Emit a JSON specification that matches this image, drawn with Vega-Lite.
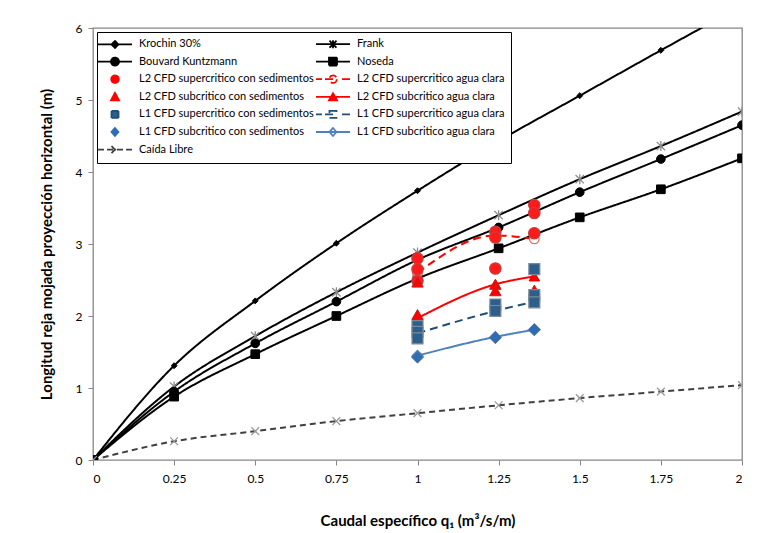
{
  "$schema": "https://vega.github.io/schema/vega-lite/v6.json",
  "autosize": {"type": "none"},
  "padding": {"left": 93, "top": 28, "right": 19, "bottom": 73},
  "width": 649,
  "height": 432,
  "background": "white",
  "params": [
    {"name": "legNames", "value": ["Krochin 30%", "Frank", "Bouvard Kuntzmann", "Noseda", "L2 CFD supercritico con sedimentos", "L2 CFD supercritico agua clara", "L2 CFD subcritico con sedimentos", "L2 CFD subcritico agua clara", "L1 CFD supercritico con sedimentos", "L1 CFD supercritico agua clara", "L1 CFD subcritico con sedimentos", "L1 CFD subcritico agua clara", "Caída Libre"]},
    {"name": "legShapes", "value": [
      "M-3.4,0H3.4M0,-0.7L0.7,0L0,0.7L-0.7,0Z",
      "M-3.4,0H3.4M-0.7,-0.7L0.7,0.7M-0.7,0.7L0.7,-0.7M0,-0.8V0.8",
      "M-3.4,0H3.4M0.8,0A0.8,0.8,0,1,1,-0.8,0A0.8,0.8,0,1,1,0.8,0Z",
      "M-3.4,0H3.4M-0.8,-0.8H0.8V0.8H-0.8Z",
      "M0.75,0A0.75,0.75,0,1,1,-0.75,0A0.75,0.75,0,1,1,0.75,0Z",
      "M-3.4,0H-2.2M-1.6,0H1.0M1.8,0H3.4M0.75,0A0.75,0.75,0,1,1,-0.75,0A0.75,0.75,0,1,1,0.75,0Z",
      "M0,-0.8L0.8,0.7H-0.8Z",
      "M-3.4,0H3.4M0,-0.7L0.8,0.7H-0.8Z",
      "M-0.7,-0.7H0.7V0.7H-0.7Z",
      "M-3.4,0H-2.2M-1.6,0H1.0M1.8,0H3.4M-0.7,-0.7H0.7V0.7H-0.7Z",
      "M0,-0.8L0.7,0L0,0.8L-0.7,0Z",
      "M-3.4,0H3.4M0,-0.8L0.7,0L0,0.8L-0.7,0Z",
      "M-3.4,0H-2.2M-1.6,0H1.6M2.2,0H3.4M-0.7,-0.7L0.7,0.7M-0.7,0.7L0.7,-0.7"
    ]},
    {"name": "legFill", "value": ["#000000", "#000000", "#000000", "#000000", "#ff0000", "#ffffff", "#ff0000", "#ff0000", "#2d5f8a", "#ffffff", "#2e6db4", "#ffffff", "#404040"]},
    {"name": "legStroke", "value": ["#000000", "#000000", "#000000", "#000000", "#d00000", "#ff0000", "#ff0000", "#ff0000", "#2d5f8a", "#1f4e79", "#2e6db4", "#4f81bd", "#404040"]}
  ],
  "data": {
    "values": [
      {"s": "Krochin 30%", "q": 0, "L": 0}, {"s": "Krochin 30%", "q": 0.25, "L": 1.31}, {"s": "Krochin 30%", "q": 0.5, "L": 2.21}, {"s": "Krochin 30%", "q": 0.75, "L": 3.01}, {"s": "Krochin 30%", "q": 1, "L": 3.74}, {"s": "Krochin 30%", "q": 1.25, "L": 4.43}, {"s": "Krochin 30%", "q": 1.5, "L": 5.06}, {"s": "Krochin 30%", "q": 1.75, "L": 5.69}, {"s": "Krochin 30%", "q": 2, "L": 6.31},
      {"s": "Frank", "q": 0, "L": 0}, {"s": "Frank", "q": 0.25, "L": 1.02}, {"s": "Frank", "q": 0.5, "L": 1.72}, {"s": "Frank", "q": 0.75, "L": 2.33}, {"s": "Frank", "q": 1, "L": 2.88}, {"s": "Frank", "q": 1.25, "L": 3.4}, {"s": "Frank", "q": 1.5, "L": 3.9}, {"s": "Frank", "q": 1.75, "L": 4.36}, {"s": "Frank", "q": 2, "L": 4.84},
      {"s": "Bouvard Kuntzmann", "q": 0, "L": 0}, {"s": "Bouvard Kuntzmann", "q": 0.25, "L": 0.95}, {"s": "Bouvard Kuntzmann", "q": 0.5, "L": 1.62}, {"s": "Bouvard Kuntzmann", "q": 0.75, "L": 2.2}, {"s": "Bouvard Kuntzmann", "q": 1, "L": 2.78}, {"s": "Bouvard Kuntzmann", "q": 1.25, "L": 3.23}, {"s": "Bouvard Kuntzmann", "q": 1.5, "L": 3.72}, {"s": "Bouvard Kuntzmann", "q": 1.75, "L": 4.18}, {"s": "Bouvard Kuntzmann", "q": 2, "L": 4.65},
      {"s": "Noseda", "q": 0, "L": 0}, {"s": "Noseda", "q": 0.25, "L": 0.88}, {"s": "Noseda", "q": 0.5, "L": 1.47}, {"s": "Noseda", "q": 0.75, "L": 2.0}, {"s": "Noseda", "q": 1, "L": 2.52}, {"s": "Noseda", "q": 1.25, "L": 2.94}, {"s": "Noseda", "q": 1.5, "L": 3.37}, {"s": "Noseda", "q": 1.75, "L": 3.76}, {"s": "Noseda", "q": 2, "L": 4.19},
      {"s": "Caída Libre", "q": 0, "L": 0}, {"s": "Caída Libre", "q": 0.25, "L": 0.26}, {"s": "Caída Libre", "q": 0.5, "L": 0.4}, {"s": "Caída Libre", "q": 0.75, "L": 0.54}, {"s": "Caída Libre", "q": 1, "L": 0.65}, {"s": "Caída Libre", "q": 1.25, "L": 0.76}, {"s": "Caída Libre", "q": 1.5, "L": 0.86}, {"s": "Caída Libre", "q": 1.75, "L": 0.95}, {"s": "Caída Libre", "q": 2, "L": 1.04},
      {"s": "L2 CFD supercritico agua clara", "q": 1, "L": 2.6}, {"s": "L2 CFD supercritico agua clara", "q": 1.24, "L": 3.12}, {"s": "L2 CFD supercritico agua clara", "q": 1.36, "L": 3.07},
      {"s": "L2 CFD subcritico agua clara", "q": 1, "L": 1.97}, {"s": "L2 CFD subcritico agua clara", "q": 1.24, "L": 2.44}, {"s": "L2 CFD subcritico agua clara", "q": 1.36, "L": 2.55},
      {"s": "L1 CFD supercritico agua clara", "q": 1, "L": 1.76}, {"s": "L1 CFD supercritico agua clara", "q": 1.24, "L": 2.07}, {"s": "L1 CFD supercritico agua clara", "q": 1.36, "L": 2.2},
      {"s": "L1 CFD subcritico agua clara", "q": 1, "L": 1.45}, {"s": "L1 CFD subcritico agua clara", "q": 1.24, "L": 1.71}, {"s": "L1 CFD subcritico agua clara", "q": 1.36, "L": 1.81},
      {"s": "L2 CFD supercritico con sedimentos", "q": 1, "L": 2.8}, {"s": "L2 CFD supercritico con sedimentos", "q": 1, "L": 2.65}, {"s": "L2 CFD supercritico con sedimentos", "q": 1, "L": 2.49}, {"s": "L2 CFD supercritico con sedimentos", "q": 1.24, "L": 3.17}, {"s": "L2 CFD supercritico con sedimentos", "q": 1.24, "L": 3.09}, {"s": "L2 CFD supercritico con sedimentos", "q": 1.24, "L": 2.66}, {"s": "L2 CFD supercritico con sedimentos", "q": 1.36, "L": 3.54}, {"s": "L2 CFD supercritico con sedimentos", "q": 1.36, "L": 3.43}, {"s": "L2 CFD supercritico con sedimentos", "q": 1.36, "L": 3.15},
      {"s": "L2 CFD subcritico con sedimentos", "q": 1, "L": 2.47}, {"s": "L2 CFD subcritico con sedimentos", "q": 1, "L": 2.02}, {"s": "L2 CFD subcritico con sedimentos", "q": 1.24, "L": 2.44}, {"s": "L2 CFD subcritico con sedimentos", "q": 1.24, "L": 2.35}, {"s": "L2 CFD subcritico con sedimentos", "q": 1.36, "L": 2.36},
      {"s": "L1 CFD supercritico con sedimentos", "q": 1, "L": 1.86}, {"s": "L1 CFD supercritico con sedimentos", "q": 1, "L": 1.78}, {"s": "L1 CFD supercritico con sedimentos", "q": 1, "L": 1.69}, {"s": "L1 CFD supercritico con sedimentos", "q": 1.24, "L": 2.16}, {"s": "L1 CFD supercritico con sedimentos", "q": 1.24, "L": 2.07}, {"s": "L1 CFD supercritico con sedimentos", "q": 1.36, "L": 2.65}, {"s": "L1 CFD supercritico con sedimentos", "q": 1.36, "L": 2.29}, {"s": "L1 CFD supercritico con sedimentos", "q": 1.36, "L": 2.19},
      {"s": "L1 CFD subcritico con sedimentos", "q": 1, "L": 1.43}, {"s": "L1 CFD subcritico con sedimentos", "q": 1.24, "L": 1.7}, {"s": "L1 CFD subcritico con sedimentos", "q": 1.36, "L": 1.81}
    ]
  },
  "encoding": {
    "x": {"field": "q", "type": "quantitative", "scale": {"domain": [0, 2], "nice": false},
      "axis": {"values": [0, 0.25, 0.5, 0.75, 1, 1.25, 1.5, 1.75, 2], "labelExpr": "'' + datum.value", "title": "Caudal específico q₁ (m³/s/m)", "grid": false, "domain": false, "tickColor": "#868686", "tickSize": 5, "labelPadding": 8, "titlePadding": 29}},
    "y": {"field": "L", "type": "quantitative", "scale": {"domain": [0, 6], "nice": false},
      "axis": {"values": [0, 1, 2, 3, 4, 5, 6], "title": "Longitud reja mojada proyección horizontal  (m)", "grid": false, "domain": false, "tickColor": "#868686", "tickSize": 5, "labelPadding": 6, "titlePadding": 21}}
  },
  "layer": [
    {
      "transform": [{"filter": "indexof(['Krochin 30%','Frank','Bouvard Kuntzmann','Noseda','Caída Libre','L2 CFD supercritico agua clara','L2 CFD subcritico agua clara','L1 CFD supercritico agua clara','L1 CFD subcritico agua clara'], datum.s) >= 0"}],
      "mark": {"type": "line", "interpolate": "monotone", "clip": true, "strokeWidth": 2},
      "encoding": {
        "stroke": {"field": "s", "type": "nominal",
          "scale": {"domain": ["Krochin 30%", "Bouvard Kuntzmann", "L2 CFD supercritico con sedimentos", "L2 CFD subcritico con sedimentos", "L1 CFD supercritico con sedimentos", "L1 CFD subcritico con sedimentos", "Caída Libre", "Frank", "Noseda", "L2 CFD supercritico agua clara", "L2 CFD subcritico agua clara", "L1 CFD supercritico agua clara", "L1 CFD subcritico agua clara"],
            "range": ["#000000", "#000000", "#ff0000", "#ff0000", "#1f4e79", "#2e6db4", "#404040", "#000000", "#000000", "#ff0000", "#ff0000", "#1f4e79", "#4f81bd"]},
          "legend": {
            "orient": "none", "legendX": 4, "legendY": 4, "columns": 2, "title": null,
            "fillColor": "white", "strokeColor": "#000000", "padding": 6,
            "labelFont": "Lato", "labelFontSize": 11, "labelColor": "#000000", "labelLimit": 400,
            "labelExpr": "indexof(['Frank','Noseda','L2 CFD supercritico agua clara','L2 CFD subcritico agua clara','L1 CFD supercritico agua clara','L1 CFD subcritico agua clara'], datum.label) >= 0 ? datum.label + '\u2003\u2003\u2003\u2003\u2003\u2003\u2003\u2003\u2003\u2003' : datum.label",
            "symbolSize": 100, "symbolOffset": 6, "rowPadding": 1.6, "columnPadding": -2, "labelOffset": 18,
            "encode": {"symbols": {"update": {
              "shape": {"signal": "legShapes[indexof(legNames, datum.value)]"},
              "fill": {"signal": "legFill[indexof(legNames, datum.value)]"},
              "stroke": {"signal": "legStroke[indexof(legNames, datum.value)]"},
              "strokeWidth": {"value": 1.8},
              "strokeDash": {"value": []},
              "size": {"value": 100},
              "opacity": {"value": 1}
            }}}
          }},
        "strokeDash": {"field": "s", "type": "nominal", "legend": null,
          "scale": {"domain": ["Krochin 30%", "Bouvard Kuntzmann", "L2 CFD supercritico con sedimentos", "L2 CFD subcritico con sedimentos", "L1 CFD supercritico con sedimentos", "L1 CFD subcritico con sedimentos", "Caída Libre", "Frank", "Noseda", "L2 CFD supercritico agua clara", "L2 CFD subcritico agua clara", "L1 CFD supercritico agua clara", "L1 CFD subcritico agua clara"],
            "range": [[1, 0], [1, 0], [1, 0], [1, 0], [1, 0], [1, 0], [6, 4], [1, 0], [1, 0], [8, 5], [1, 0], [8, 5], [1, 0]]}}
      }
    },
    {"transform": [{"filter": "datum.s === 'Krochin 30%'"}], "mark": {"type": "point", "clip": true, "shape": "diamond", "filled": true, "size": 35, "fill": "#000000", "stroke": "#000000", "strokeWidth": 1, "opacity": 1}},
    {"transform": [{"filter": "datum.s === 'Frank'"}], "mark": {"type": "point", "clip": true, "shape": "M-1,-1L1,1M-1,1L1,-1M0,-1.2V1.2", "filled": false, "size": 70, "stroke": "#8c8c8c", "strokeWidth": 1.3, "opacity": 1}},
    {"transform": [{"filter": "datum.s === 'Bouvard Kuntzmann'"}], "mark": {"type": "point", "clip": true, "shape": "circle", "filled": true, "size": 75, "fill": "#000000", "stroke": "#000000", "strokeWidth": 1, "opacity": 1}},
    {"transform": [{"filter": "datum.s === 'Noseda'"}], "mark": {"type": "point", "clip": true, "shape": "square", "filled": true, "size": 75, "fill": "#000000", "stroke": "#000000", "strokeWidth": 1, "opacity": 1}},
    {"transform": [{"filter": "datum.s === 'Caída Libre'"}], "mark": {"type": "point", "clip": true, "shape": "M-1,-1L1,1M-1,1L1,-1", "filled": false, "size": 60, "stroke": "#9a9a9a", "strokeWidth": 1.3, "opacity": 1}},
    {"transform": [{"filter": "datum.s === 'L2 CFD supercritico agua clara'"}], "mark": {"type": "point", "clip": true, "shape": "circle", "filled": true, "size": 90, "fill": "#ffffff", "stroke": "#ff6060", "strokeWidth": 1.3, "opacity": 1}},
    {"transform": [{"filter": "datum.s === 'L2 CFD subcritico agua clara'"}], "mark": {"type": "point", "clip": true, "shape": "triangle-up", "filled": true, "size": 110, "fill": "#ff0000", "stroke": "#e00000", "strokeWidth": 1, "opacity": 1}},
    {"transform": [{"filter": "datum.s === 'L1 CFD supercritico agua clara'"}], "mark": {"type": "point", "clip": true, "shape": "square", "filled": true, "size": 90, "fill": "#ffffff", "stroke": "#5b9bd5", "strokeWidth": 1.3, "opacity": 1}},
    {"transform": [{"filter": "datum.s === 'L1 CFD subcritico agua clara'"}], "mark": {"type": "point", "clip": true, "shape": "diamond", "filled": true, "size": 110, "fill": "#ffffff", "stroke": "#4f81bd", "strokeWidth": 1.3, "opacity": 1}},
    {"transform": [{"filter": "datum.s === 'L2 CFD supercritico con sedimentos'"}], "mark": {"type": "point", "clip": true, "shape": "circle", "filled": true, "size": 130, "fill": "#ff1a1a", "stroke": "#c04040", "strokeWidth": 1.2, "opacity": 1}},
    {"transform": [{"filter": "datum.s === 'L2 CFD subcritico con sedimentos'"}], "mark": {"type": "point", "clip": true, "shape": "triangle-up", "filled": true, "size": 130, "fill": "#ff0000", "stroke": "#c02020", "strokeWidth": 1, "opacity": 1}},
    {"transform": [{"filter": "datum.s === 'L1 CFD supercritico con sedimentos'"}], "mark": {"type": "point", "clip": true, "shape": "square", "filled": true, "size": 120, "fill": "#2d5f8a", "stroke": "#7a8a9a", "strokeWidth": 1.2, "opacity": 1}},
    {"transform": [{"filter": "datum.s === 'L1 CFD subcritico con sedimentos'"}], "mark": {"type": "point", "clip": true, "shape": "diamond", "filled": true, "size": 150, "fill": "#2e6db4", "stroke": "#5a7a9a", "strokeWidth": 1, "opacity": 1}}
  ],
  "config": {
    "view": {"stroke": "#868686", "strokeWidth": 1.3},
    "font": "Lato",
    "axis": {"labelFont": "Lato", "labelFontSize": 12, "labelColor": "#000000", "titleFont": "Lato", "titleFontSize": 15, "titleFontWeight": "bold", "titleColor": "#000000"}
  }
}
